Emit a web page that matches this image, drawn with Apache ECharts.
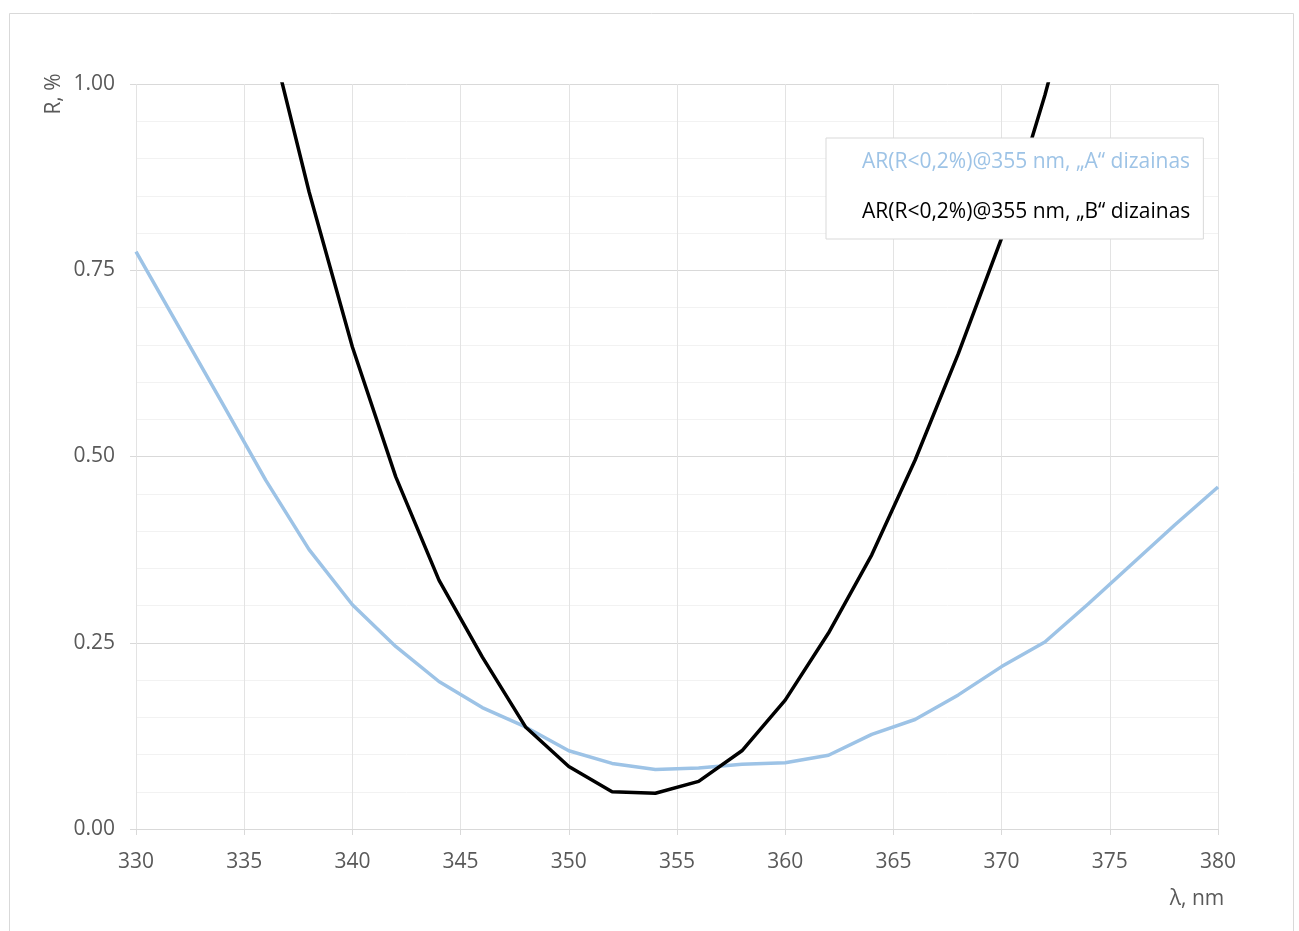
<!DOCTYPE html>
<html>
<head>
<meta charset="utf-8">
<script src="https://cdn.jsdelivr.net/npm/echarts@6/dist/echarts.min.js"></script>
<style>html,body{margin:0;padding:0;background:#fff;}#c{width:1299px;height:931px;}</style>
</head>
<body>
<div id="c"></div>
<script>
// wavelengths (nm)
const lambdaA = [330,332,334,336,338,340,342,344,346,348,350,352,354,356,358,360,362,364,366,368,370,372,374,376,378,380];
const valuesA = [0.775,0.673,0.571,0.468,0.375,0.301,0.245,0.198,0.163,0.137,0.105,0.088,0.080,0.082,0.087,0.089,0.099,0.127,0.147,0.180,0.218,0.251,0.302,0.355,0.408,0.459];
const lambdaB = [336,338,340,342,344,346,348,350,352,354,356,358,360,362,364,366,368,370,372,374];
const valuesB = [1.09,0.855,0.647,0.473,0.334,0.231,0.137,0.084,0.050,0.048,0.064,0.105,0.173,0.263,0.368,0.495,0.638,0.793,0.985,1.20];
const nameA = 'AR(R<0,2%)@355 nm, \u201EA\u201C dizainas';
const nameB = 'AR(R<0,2%)@355 nm, \u201EB\u201C dizainas';
const colorA = '#9DC3E6';
const colorB = '#000000';

const FONT = '"Open Sans", sans-serif';
const chart = echarts.init(document.getElementById('c'), null, {renderer:'canvas'});
chart.setOption({
  animation:false,
  backgroundColor:'#fff',
  textStyle:{fontFamily:FONT},
  grid:{left:136, right:81, top:84, bottom:102, containLabel:false},
  xAxis:{
    type:'value', min:330, max:380, interval:5,
    axisLine:{show:true, lineStyle:{color:'#d9d9d9', width:1}},
    axisTick:{show:true, length:6, lineStyle:{color:'#d9d9d9'}},
    axisLabel:{color:'#595959', fontSize:21, fontFamily:FONT, margin:23},
    splitLine:{show:true, lineStyle:{color:'#e3e3e3', width:1}}
  },
  yAxis:{
    type:'value', min:0, max:1, interval:0.25,
    axisLine:{show:false},
    axisTick:{show:true, length:6, lineStyle:{color:'#d9d9d9'}},
    axisLabel:{color:'#595959', fontSize:21, fontFamily:FONT, margin:21, formatter:v=>v.toFixed(2)},
    splitLine:{show:true, lineStyle:{color:'#d9d9d9', width:1}},
    minorTick:{show:false, splitNumber:5},
    minorSplitLine:{show:true, lineStyle:{color:'#f2f2f2', width:1}}
  },
  legend:{
    orient:'vertical', left:826, top:138,
    padding:[14, 13, 16, 12],
    itemGap:29, itemWidth:19, itemHeight:21,
    backgroundColor:'#fff', borderColor:'#d9d9d9', borderWidth:1,
    icon:'rect',
    textStyle:{fontSize:21, fontFamily:FONT},
    data:[
      {name:nameA, itemStyle:{opacity:0}, textStyle:{color:colorA}},
      {name:nameB, itemStyle:{opacity:0}, textStyle:{color:colorB}}
    ]
  },
  series:[
    {name:nameA, type:'line', data:lambdaA.map((x,i)=>[x,valuesA[i]]), showSymbol:false, symbol:'none',
     lineStyle:{color:colorA, width:3.5}, itemStyle:{color:colorA}, clip:true, z:2},
    {name:nameB, type:'line', data:lambdaB.map((x,i)=>[x,valuesB[i]]), showSymbol:false, symbol:'none',
     lineStyle:{color:colorB, width:3.5}, itemStyle:{color:colorB}, clip:true, z:3}
  ],
  graphic:[
    {type:'rect', left:7, top:11, shape:{x:0,y:0,width:1284,height:930}, style:{fill:'none', stroke:'#d9d9d9', lineWidth:1}, silent:true, z:-10},
    {type:'text', x:54, y:94, rotation:Math.PI/2, style:{text:'R, %', fill:'#595959', font:'21px "Open Sans", sans-serif', textAlign:'center', textVerticalAlign:'middle'}},
    {type:'text', x:1197, y:899, style:{text:'\u03BB, nm', fill:'#595959', font:'21px "Open Sans", sans-serif', textAlign:'center', textVerticalAlign:'middle'}}
  ]
});
</script>
</body>
</html>
